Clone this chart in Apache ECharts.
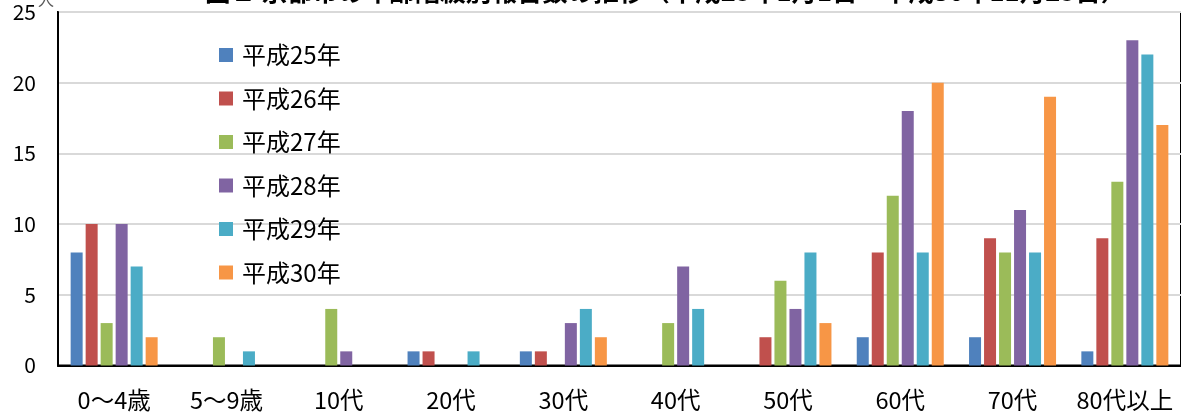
<!DOCTYPE html>
<html><head><meta charset="utf-8">
<script src="https://cdn.jsdelivr.net/npm/echarts@6/dist/echarts.min.js"></script>
<style>html,body{margin:0;padding:0;background:#fff;}#c{width:1181px;height:412px;}</style>
</head><body><div id="c"></div>
<script>
const categories = ['0～4歳','5～9歳','10代','20代','30代','40代','50代','60代','70代','80代以上'];
const seriesNames = ['平成25年','平成26年','平成27年','平成28年','平成29年','平成30年'];
const h25 = [8, 0, 0, 1, 1, 0, 0, 2, 2, 1];
const h26 = [10, 0, 0, 1, 1, 0, 2, 8, 9, 9];
const h27 = [3, 2, 4, 0, 0, 3, 6, 12, 8, 13];
const h28 = [10, 0, 1, 0, 3, 7, 4, 18, 11, 23];
const h29 = [7, 1, 0, 1, 4, 4, 8, 8, 8, 22];
const h30 = [2, 0, 0, 0, 2, 0, 3, 20, 19, 17];
const yTicks = [0, 5, 10, 15, 20, 25];
const titleText = '図１ 京都市の年齢階級別報告数の推移（平成25年1月1日～平成30年11月25日）';
const unitText = '人';

const colors = ['#4F81BD','#C0504D','#9BBB59','#8064A2','#4BACC6','#F79646'];
const allData = [h25,h26,h27,h28,h29,h30];
const FONT = '"Noto Sans CJK JP", "Noto Sans", sans-serif';

const chart = echarts.init(document.getElementById('c'));
chart.setOption({
  animation: false,
  color: colors,
  grid: {left: 58, right: -9, top: 12, bottom: 43, show: true, borderColor: '#000', borderWidth: 2, backgroundColor: 'transparent'},
  legend: {
    orient: 'vertical', left: 219, top: 43, padding: 0,
    itemWidth: 14, itemHeight: 14, itemGap: 19.5,
    icon: 'rect',
    textStyle: {fontFamily: FONT, fontSize: 24, color: '#000', lineHeight: 24, padding: [0,0,0,4]},
    data: seriesNames
  },
  graphic: [
    {type: 'text', left: 205, top: -21, style: {text: titleText, font: 'bold 25.5px ' + FONT, fill: '#000'}},
    {type: 'text', left: 38, top: -8, style: {text: unitText, font: '16px ' + FONT, fill: '#595959'}}
  ],
  xAxis: {
    type: 'category', data: categories,
    axisLine: {lineStyle: {color: '#000', width: 2}},
    axisTick: {show: false},
    axisLabel: {fontFamily: FONT, fontSize: 23.5, color: '#000', margin: 23, interval: 0}
  },
  yAxis: {
    type: 'value', min: 0, max: 25, interval: 5,
    axisLine: {show: true, lineStyle: {color: '#000', width: 2}},
    axisTick: {show: false},
    axisLabel: {fontFamily: FONT, fontSize: 21, color: '#000', margin: 22},
    splitLine: {lineStyle: {color: '#D9D9D9', width: 2}}
  },
  series: seriesNames.map((n, i) => ({
    name: n, type: 'bar', data: allData[i],
    barWidth: 12, barGap: '25%'
  }))
});
</script></body></html>
